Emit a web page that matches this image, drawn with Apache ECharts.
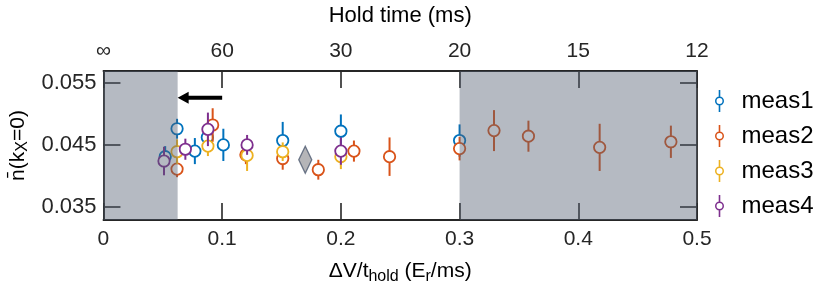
<!DOCTYPE html>
<html><head><meta charset="utf-8">
<script src="https://cdn.jsdelivr.net/npm/echarts@6/dist/echarts.min.js"></script>
<style>html,body{margin:0;padding:0;background:#fff}#c{width:830px;height:297px}</style>
</head><body><div id="c"></div>
<script>
// ---- data ----
const xTicks = [0, 0.1, 0.2, 0.3, 0.4, 0.5];
const xTickLabels = ['0', '0.1', '0.2', '0.3', '0.4', '0.5'];
const topTickLabels = ['\u221e', '60', '30', '20', '15', '12'];
const yTicks = [0.035, 0.045, 0.055];
const yTickLabels = ['0.035', '0.045', '0.055'];
const seriesNames = ['meas1', 'meas2', 'meas3', 'meas4'];

const meas1X = [0.052, 0.062, 0.077, 0.0875, 0.101, 0.151, 0.200, 0.300];
const meas1Y = [0.0431, 0.0476, 0.0440, 0.0462, 0.0450, 0.0457, 0.0472, 0.0457];
const meas1E = [0.0017, 0.0016, 0.0021, 0.0020, 0.0026, 0.0030, 0.0027, 0.0026];

const meas2X = [0.062, 0.092, 0.120, 0.151, 0.181, 0.211, 0.241, 0.300, 0.329, 0.358, 0.418, 0.478];
const meas2Y = [0.0411, 0.0482, 0.0434, 0.0428, 0.0410, 0.0440, 0.0431, 0.0444, 0.0473, 0.0464, 0.0446, 0.0455];
const meas2E = [0.0013, 0.0027, 0.0015, 0.0018, 0.0016, 0.0017, 0.0031, 0.0019, 0.0033, 0.0025, 0.0038, 0.0026];

const meas3X = [0.062, 0.088, 0.121, 0.151, 0.200];
const meas3Y = [0.0439, 0.0448, 0.0433, 0.0439, 0.0431];
const meas3E = [0.0020, 0.0016, 0.0025, 0.0015, 0.0020];

const meas4X = [0.051, 0.069, 0.088, 0.121, 0.200];
const meas4Y = [0.0424, 0.0443, 0.0475, 0.0450, 0.0440];
const meas4E = [0.0023, 0.0017, 0.0027, 0.0016, 0.0022];

const diamondX = [0.170];
const diamondY = [0.0426];

const shadeStart = [0, 0.3];
const shadeEnd = [0.0625, 0.5];

const arrowTailX = [0.1];
const arrowHeadX = [0.0625];
const arrowY = [0.0526];

// ---- chart ----
const FONT = "'Liberation Sans', Arial, Helvetica, sans-serif";
const colors = ['#0072BD', '#D95319', '#EDB120', '#7E2F8E'];
const measX = [meas1X, meas2X, meas3X, meas4X];
const measY = [meas1Y, meas2Y, meas3Y, meas4Y];
const measE = [meas1E, meas2E, meas3E, meas4E];

function errRender(color) {
  return function (params, api) {
    const x = api.value(0), y = api.value(1), e = api.value(2);
    const p = api.coord([x, y]);
    const lo = api.coord([x, y - e]);
    const hi = api.coord([x, y + e]);
    return {
      type: 'group',
      children: [
        { type: 'line', shape: { x1: p[0], y1: hi[1], x2: p[0], y2: lo[1] }, style: { stroke: color, lineWidth: 2 } },
        { type: 'circle', shape: { cx: p[0], cy: p[1], r: 5.7 }, style: { fill: '#fff', stroke: color, lineWidth: 1.8 } }
      ]
    };
  };
}

const legendIcon = 'path://M4.2,0H5.8V6.5H4.2Z M4.2,15.5H5.8V22H4.2Z M5,6.5A4.5,4.5 0 1,1 5,15.5A4.5,4.5 0 1,1 5,6.5Z M5,8A3,3 0 1,0 5,14A3,3 0 1,0 5,8Z';

const series = [];
for (let i = 0; i < 4; i++) {
  series.push({
    name: seriesNames[i],
    type: 'custom',
    z: 2 + i * 0.01,
    itemStyle: { color: colors[i] },
    encode: { x: 0, y: 1 },
    clip: true,
    renderItem: errRender(colors[i]),
    data: measX[i].map((x, k) => [x, measY[i][k], measE[i][k]])
  });
}
series.push({
  name: 'model',
  type: 'scatter',
  z: 3,
  symbol: 'diamond',
  symbolSize: [13, 27],
  itemStyle: { color: '#a3a3a6', borderColor: '#4d5a70', borderWidth: 1.5 },
  data: diamondX.map((x, k) => [x, diamondY[k]])
});
series.push({
  name: 'shade',
  type: 'custom',
  z: 5,
  silent: true,
  encode: { x: [0, 1], y: 2 },
  renderItem: function (params, api) {
    const a = api.coord([api.value(0), api.value(2)]);
    const b = api.coord([api.value(1), api.value(2)]);
    const cs = params.coordSys;
    return { type: 'rect', shape: { x: a[0], y: cs.y, width: b[0] - a[0], height: cs.height },
      style: { fill: 'rgba(83,95,114,0.43)' } };
  },
  data: shadeStart.map((s, k) => [s, shadeEnd[k], 0.045])
});
series.push({
  name: 'arrow',
  type: 'custom',
  z: 6,
  silent: true,
  encode: { x: [0, 1], y: 2 },
  renderItem: function (params, api) {
    const t = api.coord([api.value(0), api.value(2)]);
    const h = api.coord([api.value(1), api.value(2)]);
    const hl = 11, hw = 6, sw = 2;
    const y = t[1];
    return { type: 'polygon', shape: { points: [
      [t[0], y - sw], [h[0] + hl, y - sw], [h[0] + hl, y - hw], [h[0], y],
      [h[0] + hl, y + hw], [h[0] + hl, y + sw], [t[0], y + sw]
    ] }, style: { fill: '#000' } };
  },
  data: arrowTailX.map((x, k) => [x, arrowHeadX[k], arrowY[k]])
});

const tickStyle = { color: '#262626', width: 1.6 };
const lineStyle = { color: '#262626', width: 1.8 };
const common = { type: 'value', min: 0, max: 0.5, splitLine: { show: false } };

const option = {
  animation: false,
  backgroundColor: '#fff',
  textStyle: { fontFamily: FONT },
  grid: { left: 97, right: 133, top: 69, bottom: 77, containLabel: false },
  legend: {
    data: seriesNames,
    orient: 'vertical',
    left: 710, top: 84,
    itemWidth: 10, itemHeight: 22, itemGap: 11,
    icon: legendIcon,
    textStyle: { fontSize: 24, color: '#000', fontFamily: FONT, padding: [0, 0, 0, 12] }
  },
  xAxis: [
    Object.assign({}, common, {
      position: 'bottom',
      axisLine: { show: true, onZero: false, lineStyle: lineStyle },
      axisTick: { inside: true, length: 17, lineStyle: tickStyle, customValues: xTicks },
      axisLabel: { fontSize: 21, color: '#262626', margin: 9, fontFamily: FONT, customValues: xTicks,
        formatter: v => xTickLabels[xTicks.findIndex(t => Math.abs(t - v) < 1e-9)] },
      name: '{a|\u0394V/t}{s|hold}{a| (E}{s|r}{a|/ms)}',
      nameLocation: 'middle', nameGap: 37,
      nameTextStyle: { fontFamily: FONT, color: '#000', rich: {
        a: { fontSize: 21, fontFamily: FONT, color: '#000' },
        s: { fontSize: 16, fontFamily: FONT, color: '#000', padding: [12, 0, 0, 0] } } }
    }),
    Object.assign({}, common, {
      position: 'top',
      axisLine: { show: true, onZero: false, lineStyle: lineStyle },
      axisTick: { inside: true, length: 17, lineStyle: tickStyle, customValues: xTicks },
      axisLabel: { fontSize: 21, color: '#262626', margin: 9, fontFamily: FONT, customValues: xTicks,
        formatter: v => topTickLabels[xTicks.findIndex(t => Math.abs(t - v) < 1e-9)] },
      name: 'Hold time (ms)',
      nameLocation: 'middle', nameGap: 44,
      nameTextStyle: { fontSize: 22, color: '#000', fontFamily: FONT }
    })
  ],
  yAxis: [
    {
      type: 'value', min: 0.0329, max: 0.0569, position: 'left', splitLine: { show: false },
      axisLine: { show: true, onZero: false, lineStyle: lineStyle },
      axisTick: { inside: true, length: 17, lineStyle: tickStyle, customValues: yTicks },
      axisLabel: { fontSize: 22, color: '#262626', margin: 7, fontFamily: FONT, customValues: yTicks,
        formatter: v => yTickLabels[yTicks.findIndex(t => Math.abs(t - v) < 1e-9)] },
      name: '{a|n\u0304(k}{s|X}{a|=0)}',
      nameLocation: 'middle', nameGap: 70, nameRotate: 90,
      nameTextStyle: { fontFamily: FONT, color: '#000', rich: {
        a: { fontSize: 21, fontFamily: FONT, color: '#000' },
        s: { fontSize: 16, fontFamily: FONT, color: '#000', padding: [8, 0, 0, 0] } } }
    },
    {
      type: 'value', min: 0.0329, max: 0.0569, position: 'right', splitLine: { show: false },
      axisLine: { show: true, onZero: false, lineStyle: lineStyle },
      axisTick: { inside: true, length: 17, lineStyle: tickStyle, customValues: yTicks },
      axisLabel: { show: false }
    }
  ],
  series: series
};

const chart = echarts.init(document.getElementById('c'), null, { renderer: 'canvas' });
chart.setOption(option);
</script>
</body></html>
